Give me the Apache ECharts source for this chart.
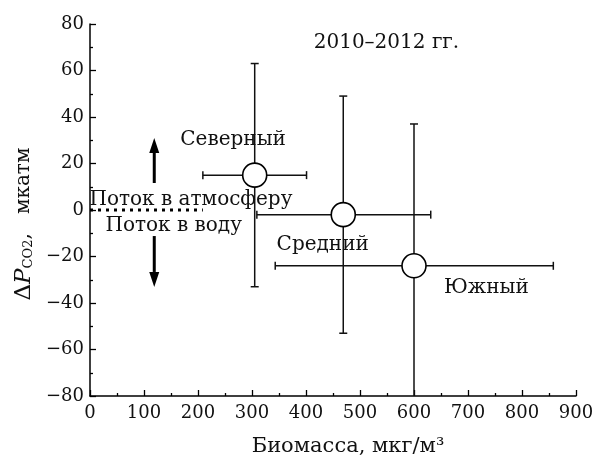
<!DOCTYPE html>
<html>
<head>
<meta charset="utf-8">
<script src="https://cdn.jsdelivr.net/npm/echarts@6/dist/echarts.min.js"></script>
<style>
  html, body { margin: 0; padding: 0; background: #fff; }
  #chart { width: 592px; height: 457px; }
</style>
</head>
<body>
<div id="chart"></div>
<script>
// регионы и их средние значения
const regions = ['Северный', 'Средний', 'Южный'];
const biomass = [305, 469, 600];
const deltaP = [15, -2, -24];
// разброс по x и y (мин, макс)
const biomassMin = [209, 309, 343];
const biomassMax = [401, 631, 858];
const deltaPMin = [-33, -53, -80];
const deltaPMax = [63, 49, 37];

// подписи в координатах данных
const labelTexts = ['Северный', 'Средний', 'Южный', '2010\u20132012 гг.', 'Поток в атмосферу', 'Поток в воду'];
const labelX = [265, 431, 734, 549, 187, 155];
const labelY = [30, -15, -33.5, 72, 4.3, -6.9];
const labelSize = [20, 20, 20, 20, 20, 20];

// стрелки и пунктир
const arrowX = [119, 119];
const arrowFrom = [11.6, -11.2];
const arrowTo = [31, -33.1];
const zeroLine = [[0, 0], [209, 0]];

const FONT = '"DejaVu Serif", "Liberation Serif", serif';

const chart = echarts.init(document.getElementById('chart'), null, { renderer: 'canvas' });

const errData = regions.map((r, i) => [biomass[i], deltaP[i], biomassMin[i], biomassMax[i], deltaPMin[i], deltaPMax[i]]);

function renderErr(params, api) {
  const x = api.value(0), y = api.value(1);
  const l = api.coord([api.value(2), y]);
  const r = api.coord([api.value(3), y]);
  const b = api.coord([x, api.value(4)]);
  const t = api.coord([x, api.value(5)]);
  const cap = 4;
  const st = { stroke: '#111', lineWidth: 1.5 };
  const lines = [
    [l[0], l[1], r[0], r[1]],
    [l[0], l[1] - cap, l[0], l[1] + cap],
    [r[0], r[1] - cap, r[0], r[1] + cap],
    [b[0], b[1], t[0], t[1]],
    [t[0] - cap, t[1], t[0] + cap, t[1]]
  ];
  if (api.value(4) > -80) lines.push([b[0] - cap, b[1], b[0] + cap, b[1]]);
  return {
    type: 'group',
    children: lines.map(p => ({ type: 'line', shape: { x1: p[0], y1: p[1], x2: p[2], y2: p[3] }, style: st }))
  };
}

function renderLabel(params, api) {
  const c = api.coord([api.value(0), api.value(1)]);
  const i = params.dataIndex;
  return {
    type: 'text',
    x: c[0], y: c[1],
    style: {
      text: labelTexts[i],
      font: labelSize[i] + 'px ' + FONT,
      fill: '#111',
      align: 'center',
      verticalAlign: 'middle'
    }
  };
}

function renderArrow(params, api) {
  const a = api.coord([api.value(0), api.value(1)]);
  const b = api.coord([api.value(0), api.value(2)]);
  const dir = b[1] < a[1] ? -1 : 1;
  const head = 15, hw = 5;
  return {
    type: 'group',
    children: [
      { type: 'line', shape: { x1: a[0], y1: a[1], x2: b[0], y2: b[1] - dir * head }, style: { stroke: '#000', lineWidth: 3 } },
      { type: 'polygon', shape: { points: [[b[0], b[1]], [b[0] - hw, b[1] - dir * head], [b[0] + hw, b[1] - dir * head]] }, style: { fill: '#000' } }
    ]
  };
}

const option = {
  animation: false,
  grid: { left: 90, right: 16, top: 24, bottom: 61, outerBoundsMode: 'none', containLabel: false },
  xAxis: {
    type: 'value',
    min: 0, max: 900, interval: 100,
    name: 'Биомасса, мкг/м\u00B3',
    nameLocation: 'middle',
    nameGap: 40,
    nameTextStyle: { fontFamily: FONT, fontSize: 21, color: '#111', padding: [0, 0, 0, 30] },
    axisLine: { onZero: false, lineStyle: { color: '#000', width: 1.5 } },
    axisTick: { inside: true, length: 6, lineStyle: { color: '#000', width: 1.3 } },
    minorTick: { show: true, splitNumber: 2, length: 3, lineStyle: { color: '#000', width: 1.3 } },
    axisLabel: { fontFamily: FONT, fontSize: 18, color: '#111', margin: 8 },
    splitLine: { show: false }
  },
  yAxis: {
    type: 'value',
    min: -80, max: 80, interval: 20,
    name: '{d|\u0394}{i|P}{s|CO2}{n|,   мкатм}',
    nameLocation: 'middle',
    nameGap: 54,
    nameTextStyle: {
      rich: {
        d: { fontFamily: FONT, fontSize: 23, color: '#111' },
        i: { fontFamily: FONT, fontSize: 23, fontStyle: 'italic', color: '#111' },
        s: { fontFamily: FONT, fontSize: 13, color: '#111', padding: [10, 0, 0, 0] },
        n: { fontFamily: FONT, fontSize: 20, color: '#111', padding: [0, 28, 0, 0] }
      }
    },
    axisLine: { onZero: false, lineStyle: { color: '#000', width: 1.5 } },
    axisTick: { inside: true, length: 6, lineStyle: { color: '#000', width: 1.3 } },
    minorTick: { show: true, splitNumber: 2, length: 3, lineStyle: { color: '#000', width: 1.3 } },
    axisLabel: {
      fontFamily: FONT, fontSize: 18, color: '#111', margin: 6,
      formatter: v => (v < 0 ? '\u2212' + Math.abs(v) : String(v))
    },
    splitLine: { show: false }
  },
  series: [
    {
      type: 'line',
      data: zeroLine,
      symbol: 'none',
      lineStyle: { color: '#000', width: 3, type: [3, 5] },
      z: 1
    },
    {
      type: 'custom',
      renderItem: renderErr,
      data: errData,
      clip: true,
      z: 2
    },
    {
      type: 'scatter',
      data: regions.map((r, i) => [biomass[i], deltaP[i]]),
      symbol: 'circle',
      symbolSize: 24,
      itemStyle: { color: '#fff', opacity: 1, borderColor: '#000', borderWidth: 1.6 },
      z: 3
    },
    {
      type: 'custom',
      renderItem: renderArrow,
      data: arrowX.map((x, i) => [x, arrowFrom[i], arrowTo[i]]),
      z: 4
    },
    {
      type: 'custom',
      renderItem: renderLabel,
      data: labelX.map((x, i) => [x, labelY[i]]),
      z: 5
    }
  ]
};

chart.setOption(option);
</script>
</body>
</html>
